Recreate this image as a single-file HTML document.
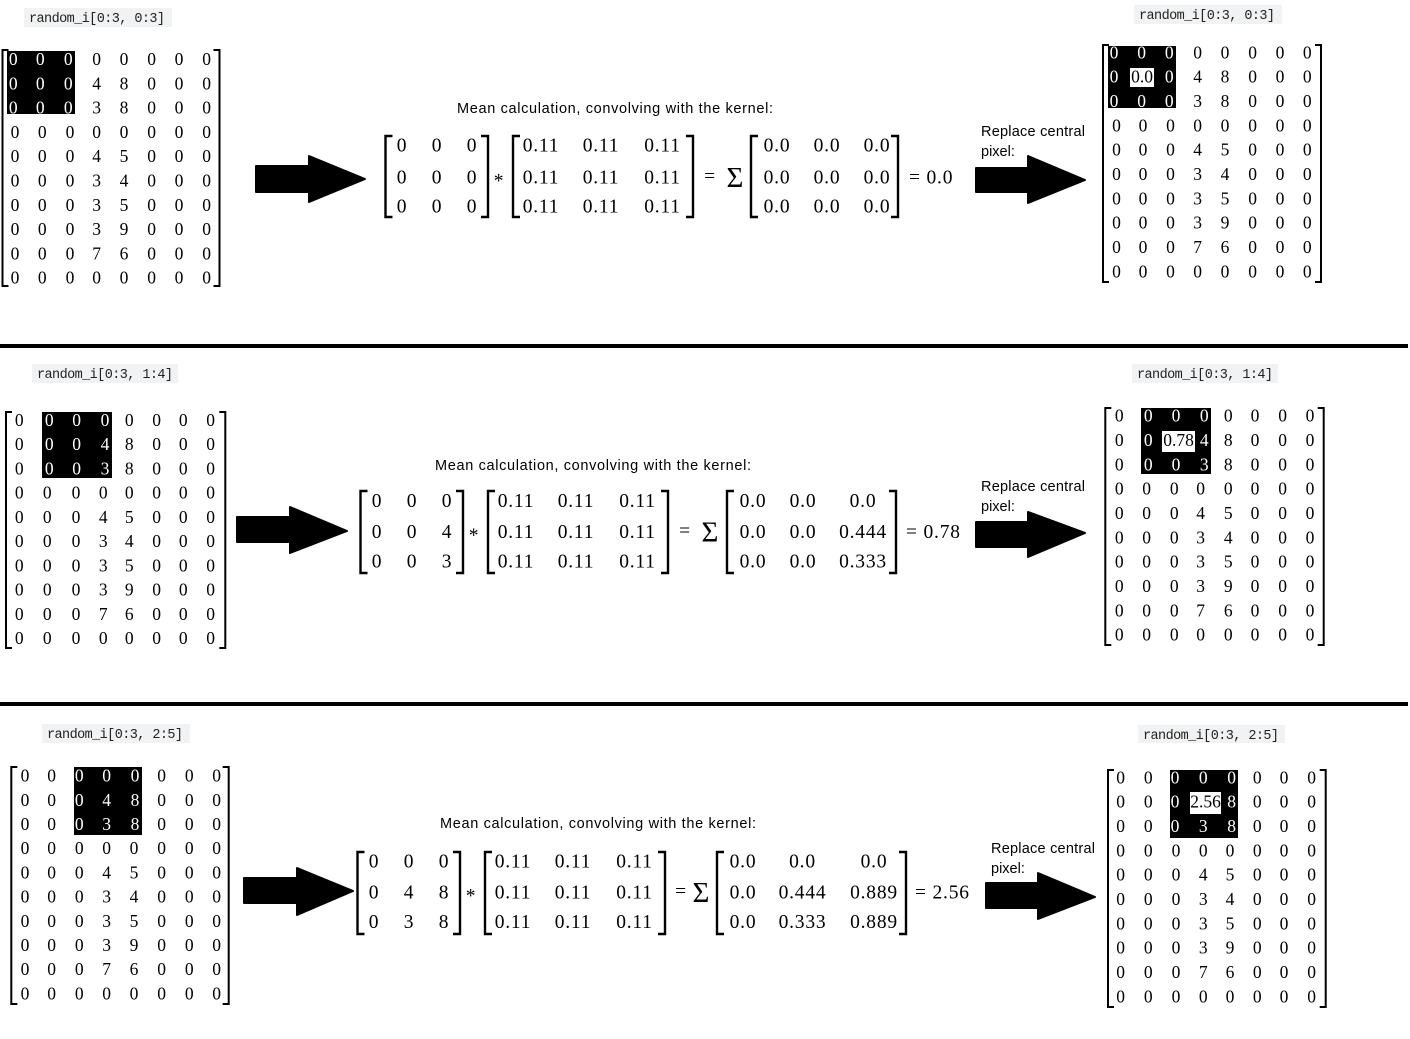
<!DOCTYPE html>
<html><head><meta charset="utf-8"><style>
html,body{margin:0;padding:0;background:#fff;}
svg{display:block;}
.m{font-family:"Liberation Serif",serif;font-size:17.5px;fill:#000;}
.w{fill:#fff;}
.e{font-family:"Liberation Serif",serif;font-size:19.5px;letter-spacing:0.8px;fill:#000;}
.s{font-family:"Liberation Sans",sans-serif;font-size:14.5px;fill:#000;}
.c{font-family:"Liberation Mono",monospace;font-size:13.5px;fill:#222;}
.bk{fill:none;stroke:#000;stroke-width:2;}
.be{fill:none;stroke:#000;stroke-width:2.4;}
.ar{fill:#000;stroke:#000;stroke-width:2;stroke-linejoin:round;}
</style></head><body>
<svg width="1410" height="1039" viewBox="0 0 1410 1039" xmlns="http://www.w3.org/2000/svg">
<rect x="0" y="0" width="1410" height="1039" fill="#fff"/>

<!-- separators -->
<rect x="0" y="344" width="1408" height="4" fill="#000"/>
<rect x="0" y="702" width="1408" height="4" fill="#000"/>

<!-- ================= SECTION 1 ================= -->
<rect x="24" y="8" width="148" height="19" fill="#f1f2f3"/>
<text class="c" x="29" y="22" textLength="136">random_i[0:3, 0:3]</text>
<rect x="1134" y="5" width="148" height="19" fill="#f1f2f3"/>
<text class="c" x="1139" y="19" textLength="136">random_i[0:3, 0:3]</text>

<!-- M1L -->
<rect x="7" y="51" width="68" height="63" fill="#000"/>
<path class="bk" d="M8.5,50H2.5V286H8.5"/>
<path class="bk" d="M213.5,50H219.5V286H213.5"/>
<text class="m w" x="8.9 35.9 63.9" y="65">000</text>
<text class="m" x="92.3 119.6 147.3 174.6 202.3" y="65">00000</text>
<text class="m w" x="8.9 35.9 63.9" y="89.3">000</text>
<text class="m" x="92.3 119.6 147.3 174.6 202.3" y="89.3">48000</text>
<text class="m w" x="8.9 35.9 63.9" y="113.6">000</text>
<text class="m" x="92.3 119.6 147.3 174.6 202.3" y="113.6">38000</text>
<text class="m" x="10.6 37.9 65.6 92.3 119.6 147.3 174.6 202.3" y="137.9">00000000</text>
<text class="m" x="10.6 37.9 65.6 92.3 119.6 147.3 174.6 202.3" y="162.2">00045000</text>
<text class="m" x="10.6 37.9 65.6 92.3 119.6 147.3 174.6 202.3" y="186.5">00034000</text>
<text class="m" x="10.6 37.9 65.6 92.3 119.6 147.3 174.6 202.3" y="210.8">00035000</text>
<text class="m" x="10.6 37.9 65.6 92.3 119.6 147.3 174.6 202.3" y="235.1">00039000</text>
<text class="m" x="10.6 37.9 65.6 92.3 119.6 147.3 174.6 202.3" y="259.4">00076000</text>
<text class="m" x="10.6 37.9 65.6 92.3 119.6 147.3 174.6 202.3" y="283.7">00000000</text>

<!-- arrow 1 -->
<path class="ar" d="M256,166H309V156L365,179L309,202V192H256Z"/>

<!-- equation 1 -->
<text class="s" x="457" y="113" textLength="316">Mean calculation, convolving with the kernel:</text>
<path class="be" d="M392.5,136H385.5V217H392.5"/>
<path class="be" d="M481,136H488V217H481"/>
<g class="e" text-anchor="middle">
<text x="402" y="151.7">0</text><text x="437" y="151.7">0</text><text x="472" y="151.7">0</text>
<text x="402" y="183.3">0</text><text x="437" y="183.3">0</text><text x="472" y="183.3">0</text>
<text x="402" y="212.7">0</text><text x="437" y="212.7">0</text><text x="472" y="212.7">0</text>
<text x="499" y="187">*</text>
<text x="541" y="151.7">0.11</text><text x="601" y="151.7">0.11</text><text x="662.5" y="151.7">0.11</text>
<text x="541" y="183.3">0.11</text><text x="601" y="183.3">0.11</text><text x="662.5" y="183.3">0.11</text>
<text x="541" y="212.7">0.11</text><text x="601" y="212.7">0.11</text><text x="662.5" y="212.7">0.11</text>
<text x="710" y="182.3">=</text>
<text x="735" y="187" style="font-size:29px;letter-spacing:0">Σ</text>
<text x="777" y="151.7">0.0</text><text x="827" y="151.7">0.0</text><text x="877" y="151.7">0.0</text>
<text x="777" y="183.3">0.0</text><text x="827" y="183.3">0.0</text><text x="877" y="183.3">0.0</text>
<text x="777" y="212.7">0.0</text><text x="827" y="212.7">0.0</text><text x="877" y="212.7">0.0</text>
</g>
<path class="be" d="M520,136H513V217H520"/>
<path class="be" d="M686,136H693V217H686"/>
<path class="be" d="M758,136H751V217H758"/>
<path class="be" d="M891,136H898V217H891"/>
<text class="e" x="909" y="183.3">= 0.0</text>

<!-- replace 1 -->
<text class="s" x="981" y="136" textLength="104">Replace central</text>
<text class="s" x="981" y="156">pixel:</text>
<path class="ar" d="M976,168H1028V156L1085,180L1028,203V192H976Z"/>

<!-- M1R -->
<rect x="1108" y="46" width="68" height="62" fill="#000"/>
<rect x="1130" y="68" width="24" height="19" fill="#fff"/>
<path class="bk" d="M1109,45H1103V282H1109"/>
<path class="bk" d="M1315,45H1321V282H1315"/>
<text class="m w" x="1109.6 1137.3 1164.9" y="58.3">000</text>
<text class="m" x="1193.3 1220.6 1248.3 1275.6 1302.9" y="58.3">00000</text>
<text class="m w" x="1109.6" y="82.6">0</text>
<text class="m" x="1142" y="82.6" text-anchor="middle">0.0</text>
<text class="m w" x="1164.9" y="82.6">0</text>
<text class="m" x="1193.3 1220.6 1248.3 1275.6 1302.9" y="82.6">48000</text>
<text class="m w" x="1109.6 1137.3 1164.9" y="107">000</text>
<text class="m" x="1193.3 1220.6 1248.3 1275.6 1302.9" y="107">38000</text>
<text class="m" x="1112.1 1138.6 1166.1 1193.3 1220.6 1248.3 1275.6 1302.9" y="131.3">00000000</text>
<text class="m" x="1112.1 1138.6 1166.1 1193.3 1220.6 1248.3 1275.6 1302.9" y="155.6">00045000</text>
<text class="m" x="1112.1 1138.6 1166.1 1193.3 1220.6 1248.3 1275.6 1302.9" y="180">00034000</text>
<text class="m" x="1112.1 1138.6 1166.1 1193.3 1220.6 1248.3 1275.6 1302.9" y="204.3">00035000</text>
<text class="m" x="1112.1 1138.6 1166.1 1193.3 1220.6 1248.3 1275.6 1302.9" y="228.6">00039000</text>
<text class="m" x="1112.1 1138.6 1166.1 1193.3 1220.6 1248.3 1275.6 1302.9" y="253">00076000</text>
<text class="m" x="1112.1 1138.6 1166.1 1193.3 1220.6 1248.3 1275.6 1302.9" y="277.3">00000000</text>

<!-- ================= SECTION 2 ================= -->
<rect x="32" y="364" width="146" height="19" fill="#f1f2f3"/>
<text class="c" x="37" y="378" textLength="136">random_i[0:3, 1:4]</text>
<rect x="1132" y="364" width="146" height="19" fill="#f1f2f3"/>
<text class="c" x="1137" y="378" textLength="136">random_i[0:3, 1:4]</text>

<!-- M2L -->
<rect x="42" y="412" width="70" height="66" fill="#000"/>
<path class="bk" d="M12,412H6V648H12"/>
<path class="bk" d="M219.3,412H225.3V648H219.3"/>
<text class="m" x="14.9" y="426">0</text>
<text class="m w" x="44.9 72.3 100.6" y="426">000</text>
<text class="m" x="124.9 152.3 178.9 206.3" y="426">0000</text>
<text class="m" x="14.9" y="450.2">0</text>
<text class="m w" x="44.9 72.3 100.6" y="450.2">004</text>
<text class="m" x="124.9 152.3 178.9 206.3" y="450.2">8000</text>
<text class="m" x="14.9" y="474.4">0</text>
<text class="m w" x="44.9 72.3 100.6" y="474.4">003</text>
<text class="m" x="124.9 152.3 178.9 206.3" y="474.4">8000</text>
<text class="m" x="14.9 42.9 71.6 98.9 124.9 152.3 178.9 206.3" y="498.7">00000000</text>
<text class="m" x="14.9 42.9 71.6 98.9 124.9 152.3 178.9 206.3" y="522.9">00045000</text>
<text class="m" x="14.9 42.9 71.6 98.9 124.9 152.3 178.9 206.3" y="547.1">00034000</text>
<text class="m" x="14.9 42.9 71.6 98.9 124.9 152.3 178.9 206.3" y="571.3">00035000</text>
<text class="m" x="14.9 42.9 71.6 98.9 124.9 152.3 178.9 206.3" y="595.6">00039000</text>
<text class="m" x="14.9 42.9 71.6 98.9 124.9 152.3 178.9 206.3" y="619.8">00076000</text>
<text class="m" x="14.9 42.9 71.6 98.9 124.9 152.3 178.9 206.3" y="644">00000000</text>

<!-- arrow 2 -->
<path class="ar" d="M237,517H290V507L347,531L290,553V542H237Z"/>

<!-- equation 2 -->
<text class="s" x="435" y="470" textLength="316">Mean calculation, convolving with the kernel:</text>
<path class="be" d="M367.5,491H360.5V573H367.5"/>
<path class="be" d="M456,491H463V573H456"/>
<path class="be" d="M495,491H488V573H495"/>
<path class="be" d="M661,491H668V573H661"/>
<path class="be" d="M734,491H727V573H734"/>
<path class="be" d="M889,491H896V573H889"/>
<g class="e" text-anchor="middle">
<text x="377" y="507">0</text><text x="412" y="507">0</text><text x="447" y="507">0</text>
<text x="377" y="538">0</text><text x="412" y="538">0</text><text x="447" y="538">4</text>
<text x="377" y="567.5">0</text><text x="412" y="567.5">0</text><text x="447" y="567.5">3</text>
<text x="474" y="541.7">*</text>
<text x="516" y="507">0.11</text><text x="576" y="507">0.11</text><text x="637.5" y="507">0.11</text>
<text x="516" y="538">0.11</text><text x="576" y="538">0.11</text><text x="637.5" y="538">0.11</text>
<text x="516" y="567.5">0.11</text><text x="576" y="567.5">0.11</text><text x="637.5" y="567.5">0.11</text>
<text x="685" y="537">=</text>
<text x="710" y="541.7" style="font-size:29px;letter-spacing:0">Σ</text>
<text x="753" y="507">0.0</text><text x="803" y="507">0.0</text><text x="863" y="507">0.0</text>
<text x="753" y="538">0.0</text><text x="803" y="538">0.0</text><text x="863" y="538">0.444</text>
<text x="753" y="567.5">0.0</text><text x="803" y="567.5">0.0</text><text x="863" y="567.5">0.333</text>
</g>
<text class="e" x="906" y="538">= 0.78</text>

<!-- replace 2 -->
<text class="s" x="981" y="491" textLength="104">Replace central</text>
<text class="s" x="981" y="511">pixel:</text>
<path class="ar" d="M976,522H1028V512L1085,533L1028,557V547H976Z"/>

<!-- M2R -->
<rect x="1141" y="408" width="70" height="66" fill="#000"/>
<rect x="1162" y="431" width="33" height="21" fill="#fff"/>
<path class="bk" d="M1111.3,408H1105.3V645H1111.3"/>
<path class="bk" d="M1317.7,408H1323.7V645H1317.7"/>
<text class="m" x="1114.9" y="421.7">0</text>
<text class="m w" x="1143.9 1171.6 1199.9" y="421.7">000</text>
<text class="m" x="1223.9 1250.6 1278.3 1305.6" y="421.7">0000</text>
<text class="m" x="1114.9" y="446">0</text>
<text class="m w" x="1143.9" y="446">0</text>
<text class="m" x="1178.5" y="446" text-anchor="middle">0.78</text>
<text class="m w" x="1199.9" y="446">4</text>
<text class="m" x="1223.9 1250.6 1278.3 1305.6" y="446">8000</text>
<text class="m" x="1114.9" y="470.4">0</text>
<text class="m w" x="1143.9 1171.6 1199.9" y="470.4">003</text>
<text class="m" x="1223.9 1250.6 1278.3 1305.6" y="470.4">8000</text>
<text class="m" x="1114.9 1142.3 1169.9 1196.3 1223.9 1250.6 1278.3 1305.6" y="494.7">00000000</text>
<text class="m" x="1114.9 1142.3 1169.9 1196.3 1223.9 1250.6 1278.3 1305.6" y="519">00045000</text>
<text class="m" x="1114.9 1142.3 1169.9 1196.3 1223.9 1250.6 1278.3 1305.6" y="543.4">00034000</text>
<text class="m" x="1114.9 1142.3 1169.9 1196.3 1223.9 1250.6 1278.3 1305.6" y="567.7">00035000</text>
<text class="m" x="1114.9 1142.3 1169.9 1196.3 1223.9 1250.6 1278.3 1305.6" y="592">00039000</text>
<text class="m" x="1114.9 1142.3 1169.9 1196.3 1223.9 1250.6 1278.3 1305.6" y="616.4">00076000</text>
<text class="m" x="1114.9 1142.3 1169.9 1196.3 1223.9 1250.6 1278.3 1305.6" y="640.7">00000000</text>

<!-- ================= SECTION 3 ================= -->
<rect x="42" y="724" width="148" height="19" fill="#f1f2f3"/>
<text class="c" x="47" y="738" textLength="136">random_i[0:3, 2:5]</text>
<rect x="1138" y="725" width="147" height="18" fill="#f1f2f3"/>
<text class="c" x="1143" y="739" textLength="136">random_i[0:3, 2:5]</text>

<!-- M3L -->
<rect x="74" y="767" width="68" height="68" fill="#000"/>
<path class="bk" d="M17.3,767H11.3V1004H17.3"/>
<path class="bk" d="M222.7,767H228.7V1004H222.7"/>
<text class="m" x="20.6 47.3" y="781.7">00</text>
<text class="m w" x="74.9 102.3 130.6" y="781.7">000</text>
<text class="m" x="157.3 184.9 212.3" y="781.7">000</text>
<text class="m" x="20.6 47.3" y="805.9">00</text>
<text class="m w" x="74.9 102.3 130.6" y="805.9">048</text>
<text class="m" x="157.3 184.9 212.3" y="805.9">000</text>
<text class="m" x="20.6 47.3" y="830.1">00</text>
<text class="m w" x="74.9 102.3 130.6" y="830.1">038</text>
<text class="m" x="157.3 184.9 212.3" y="830.1">000</text>
<text class="m" x="20.6 47.3 74.9 102.3 129.6 157.3 184.9 212.3" y="854.2">00000000</text>
<text class="m" x="20.6 47.3 74.9 102.3 129.6 157.3 184.9 212.3" y="878.4">00045000</text>
<text class="m" x="20.6 47.3 74.9 102.3 129.6 157.3 184.9 212.3" y="902.6">00034000</text>
<text class="m" x="20.6 47.3 74.9 102.3 129.6 157.3 184.9 212.3" y="926.8">00035000</text>
<text class="m" x="20.6 47.3 74.9 102.3 129.6 157.3 184.9 212.3" y="951">00039000</text>
<text class="m" x="20.6 47.3 74.9 102.3 129.6 157.3 184.9 212.3" y="975.2">00076000</text>
<text class="m" x="20.6 47.3 74.9 102.3 129.6 157.3 184.9 212.3" y="999.3">00000000</text>

<!-- arrow 3 -->
<path class="ar" d="M244,878H297V868L353,891L297,915V903H244Z"/>

<!-- equation 3 -->
<text class="s" x="440" y="828" textLength="316">Mean calculation, convolving with the kernel:</text>
<path class="be" d="M364.5,852H357.5V934H364.5"/>
<path class="be" d="M453,852H460V934H453"/>
<path class="be" d="M492,852H485V934H492"/>
<path class="be" d="M658,852H665V934H658"/>
<path class="be" d="M724,852H717V934H724"/>
<path class="be" d="M899,852H906V934H899"/>
<g class="e" text-anchor="middle">
<text x="374" y="867.5">0</text><text x="409" y="867.5">0</text><text x="444" y="867.5">0</text>
<text x="374" y="898.5">0</text><text x="409" y="898.5">4</text><text x="444" y="898.5">8</text>
<text x="374" y="928">0</text><text x="409" y="928">3</text><text x="444" y="928">8</text>
<text x="471" y="902.2">*</text>
<text x="513" y="867.5">0.11</text><text x="573" y="867.5">0.11</text><text x="634.5" y="867.5">0.11</text>
<text x="513" y="898.5">0.11</text><text x="573" y="898.5">0.11</text><text x="634.5" y="898.5">0.11</text>
<text x="513" y="928">0.11</text><text x="573" y="928">0.11</text><text x="634.5" y="928">0.11</text>
<text x="681" y="897.5">=</text>
<text x="701" y="902.2" style="font-size:29px;letter-spacing:0">Σ</text>
<text x="743" y="867.5">0.0</text><text x="802.5" y="867.5">0.0</text><text x="874" y="867.5">0.0</text>
<text x="743" y="898.5">0.0</text><text x="802.5" y="898.5">0.444</text><text x="874" y="898.5">0.889</text>
<text x="743" y="928">0.0</text><text x="802.5" y="928">0.333</text><text x="874" y="928">0.889</text>
</g>
<text class="e" x="915" y="898.5">= 2.56</text>

<!-- replace 3 -->
<text class="s" x="991" y="853" textLength="104">Replace central</text>
<text class="s" x="991" y="873">pixel:</text>
<path class="ar" d="M986,883H1038V873L1095,897L1038,919V908H986Z"/>

<!-- M3R -->
<rect x="1170" y="770" width="68" height="68" fill="#000"/>
<rect x="1190" y="792" width="31" height="22" fill="#fff"/>
<path class="bk" d="M1114,770H1108V1007H1114"/>
<path class="bk" d="M1319.7,770H1325.7V1007H1319.7"/>
<text class="m" x="1116.3 1143.9" y="783.3">00</text>
<text class="m w" x="1170.6 1198.9 1227.3" y="783.3">000</text>
<text class="m" x="1252.9 1279.6 1307.3" y="783.3">000</text>
<text class="m" x="1116.3 1143.9" y="807.7">00</text>
<text class="m w" x="1170.6" y="807.7">0</text>
<text class="m" x="1205.5" y="807.7" text-anchor="middle">2.56</text>
<text class="m w" x="1227.3" y="807.7">8</text>
<text class="m" x="1252.9 1279.6 1307.3" y="807.7">000</text>
<text class="m" x="1116.3 1143.9" y="832">00</text>
<text class="m w" x="1170.6 1198.9 1227.3" y="832">038</text>
<text class="m" x="1252.9 1279.6 1307.3" y="832">000</text>
<text class="m" x="1116.3 1143.9 1171.6 1198.9 1225.6 1252.9 1279.6 1307.3" y="856.3">00000000</text>
<text class="m" x="1116.3 1143.9 1171.6 1198.9 1225.6 1252.9 1279.6 1307.3" y="880.7">00045000</text>
<text class="m" x="1116.3 1143.9 1171.6 1198.9 1225.6 1252.9 1279.6 1307.3" y="905">00034000</text>
<text class="m" x="1116.3 1143.9 1171.6 1198.9 1225.6 1252.9 1279.6 1307.3" y="929.3">00035000</text>
<text class="m" x="1116.3 1143.9 1171.6 1198.9 1225.6 1252.9 1279.6 1307.3" y="953.7">00039000</text>
<text class="m" x="1116.3 1143.9 1171.6 1198.9 1225.6 1252.9 1279.6 1307.3" y="978">00076000</text>
<text class="m" x="1116.3 1143.9 1171.6 1198.9 1225.6 1252.9 1279.6 1307.3" y="1002.3">00000000</text>
</svg>
</body></html>
